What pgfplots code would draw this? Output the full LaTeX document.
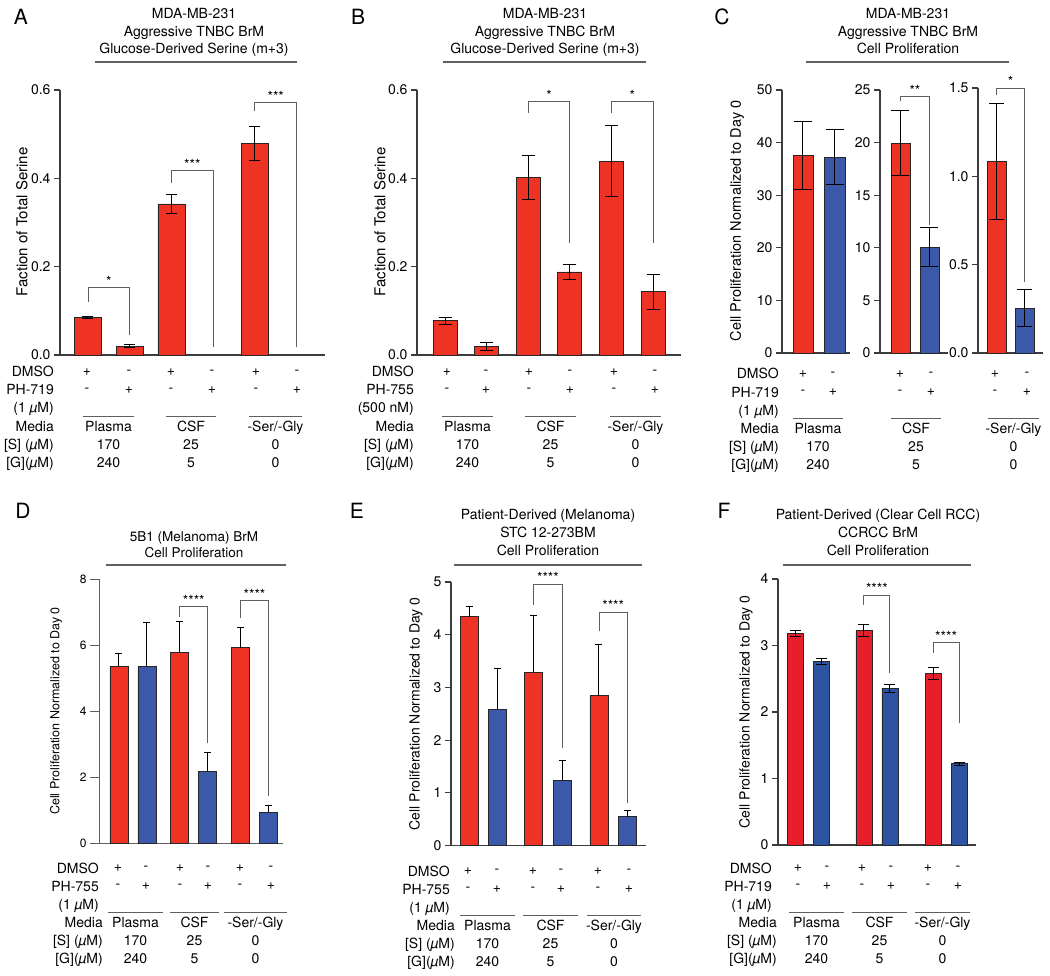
\documentclass[border=0pt]{standalone}
\usepackage{fontspec}
\setmainfont{TeX Gyre Heros}
\usepackage{pgfplots}
\pgfplotsset{compat=1.18}

\definecolor{bred}{RGB}{238,50,36}
\definecolor{bblue}{RGB}{59,89,168}
\definecolor{fred}{RGB}{232,30,42}
\definecolor{fblue}{RGB}{44,84,162}
\definecolor{axgray}{RGB}{60,60,60}
\definecolor{lngray}{RGB}{95,95,95}

\newcommand{\fs}[1]{\fontsize{#1}{#1}\selectfont}
\newcommand{\SG}{-Ser/-Gly}
\newcommand{\um}{{\itshape µ}M}

\pgfplotsset{
  panel/.style={scale only axis, anchor=south west, clip=false,
    axis x line*=bottom, axis y line*=left, xtick=\empty, ymin=0,
    axis line style={draw=axgray, line width=1.1pt},
    ytick style={draw=axgray, line width=1.1pt},
    tick align=outside, major tick length=6pt,
    /pgf/number format/assume math mode=true,
    yticklabel style={font=\fs{14}},
  },
  onedec/.style={yticklabel style={/pgf/number format/.cd, fixed, fixed zerofill, precision=1}},
  bars/.style n args={4}{ybar, bar width=#1pt, fill=#2, draw=black!85, line width=0.8pt,
    error bars/.cd, y explicit, y dir=#4,
    error bar style={line width=1pt, black},
    error mark options={rotate=90, mark size=#3pt, line width=1pt, black}},
}

% significance bracket: x1, y left end, y top, x2, y right end, stars
\newcommand{\brk}[6]{%
  \draw[lngray, line width=0.9pt] (axis cs:#1,#2) -- (axis cs:#1,#3)
    -- node[anchor=south, inner sep=1pt, text=black, font=\fs{14}] {#6} (axis cs:#4,#3)
    -- (axis cs:#4,#5);}

% condition table under a panel
\newcommand{\Tab}[7]{%
  \node[font=\fs{14}, anchor=base east, inner sep=0] at (#1,#3+5) {DMSO};
  \node[font=\fs{14}, anchor=base east, inner sep=0] at (#1,#3+23) {#4};
  \node[font=\fs{14}, anchor=base east, inner sep=0] at (#1,#3+41) {#5};
  \node[font=\fs{14}, anchor=base east, inner sep=0] at (#2,#3+59) {Media};
  \node[font=\fs{14}, anchor=base east, inner sep=0] at (#2,#3+77) {[S] (\um)};
  \node[font=\fs{14}, anchor=base east, inner sep=0] at (#2,#3+95) {[G](\um)};
  \foreach \p [count=\i] in {#6} {
    \ifodd\i\relax
      \node[font=\fs{14}] at (\p,#3) {+}; \node[font=\fs{14}] at (\p,#3+18) {-};
    \else
      \node[font=\fs{14}] at (\p,#3) {-}; \node[font=\fs{14}] at (\p,#3+18) {+};
    \fi}
  \foreach \a/\b/\m/\s/\g in {#7} {
    \draw[lngray, line width=1pt] (\a,#3+44) -- (\b,#3+44);
    \node[font=\fs{14}, anchor=base, inner sep=0] at ({(\a+\b)/2},#3+59) {\m};
    \node[font=\fs{14}, anchor=base, inner sep=0] at ({(\a+\b)/2},#3+77) {\s};
    \node[font=\fs{14}, anchor=base, inner sep=0] at ({(\a+\b)/2},#3+95) {\g};
  }}

\begin{document}
\begin{tikzpicture}[x=1pt,y=-1pt]
\path[use as bounding box] (0,0) rectangle (1050,976);

%% ---------------- A
\begin{axis}[panel, onedec, at={(60pt,-355pt)}, width=265pt, height=265pt,
  xmin=0.33, xmax=6.68, ymax=0.6, ytick={0,0.2,0.4,0.6}]
\addplot[bars={27}{bred}{5.5}{both}] coordinates {
  (1,0.085) +- (0,0.003) (2,0.020) +- (0,0.003)
  (3,0.342) +- (0,0.022) (5,0.479) +- (0,0.038)};
\brk{1}{0.120}{0.152}{2}{0.045}{*}
\brk{3}{0.389}{0.417}{4}{0.018}{***}
\brk{5}{0.552}{0.571}{6}{0.018}{***}
\end{axis}

%% ---------------- B
\begin{axis}[panel, onedec, at={(417pt,-355pt)}, width=264pt, height=265pt,
  xmin=0.327, xmax=6.67, ymax=0.6, ytick={0,0.2,0.4,0.6}]
\addplot[bars={24}{bred}{6.5}{both}] coordinates {
  (1,0.078) +- (0,0.008) (2,0.019) +- (0,0.009)
  (3,0.402) +- (0,0.050) (4,0.188) +- (0,0.016)
  (5,0.439) +- (0,0.080) (6,0.143) +- (0,0.040)};
\brk{3}{0.548}{0.573}{4}{0.254}{*}
\brk{5}{0.548}{0.573}{6}{0.254}{*}
\end{axis}

%% ---------------- C
\begin{axis}[panel, at={(782pt,-353pt)}, width=68pt, height=263pt,
  xmin=0.344, xmax=2.47, ymax=50, ytick={0,10,...,50}]
\addplot[bars={20}{bred}{9}{both}] coordinates {(1,37.6) +- (0,6.5)};
\addplot[bars={21}{bblue}{9}{both}] coordinates {(2,37.2) +- (0,5.2)};
\end{axis}
\begin{axis}[panel, at={(880pt,-353pt)}, width=68pt, height=263pt,
  xmin=0.293, xmax=2.64, ymax=25, ytick={0,5,...,25}]
\addplot[bars={19}{bred}{9}{both}] coordinates {(1,19.93) +- (0,3.1)};
\addplot[bars={19}{bblue}{9}{both}] coordinates {(2,10.05) +- (0,1.85)};
\brk{1}{24.0}{24.36}{2}{12.2}{**}
\end{axis}
\begin{axis}[panel, onedec, at={(978pt,-353pt)}, width=65pt, height=265pt,
  xmin=0.34, xmax=2.66, ymax=1.5, ytick={0,0.5,1,1.5}]
\addplot[bars={19}{bred}{7.5}{both}] coordinates {(1,1.083) +- (0,0.327)};
\addplot[bars={19}{bblue}{7.5}{both}] coordinates {(2,0.253) +- (0,0.105)};
\brk{1}{1.46}{1.50}{2}{0.40}{*}
\end{axis}

%% ---------------- D
\begin{axis}[panel, at={(99pt,-843pt)}, width=184pt, height=264pt,
  xmin=0.286, xmax=6.857, ymax=8, ytick={0,2,...,8},
  axis line style={draw=lngray, line width=1pt}, ytick style={draw=lngray, line width=1pt},
  major tick length=9pt, yticklabel style={font=\fs{12}}]
\addplot[bars={18}{bred}{3.5}{plus}] coordinates {
  (1,5.36) +- (0,0.37) (3.17,5.78) +- (0,0.93) (5.34,5.92) +- (0,0.60)};
\addplot[bars={18}{bblue}{3.5}{plus}] coordinates {
  (2,5.36) +- (0,1.32) (4.17,2.18) +- (0,0.56) (6.34,0.93) +- (0,0.20)};
\brk{3.17}{6.86}{7.16}{4.17}{3.03}{****}
\brk{5.34}{6.82}{7.34}{6.34}{1.42}{****}
\end{axis}

%% ---------------- E
\begin{axis}[panel, at={(451pt,-845.5pt)}, width=195pt, height=263.5pt,
  xmin=0.368, xmax=7.21, ymax=5, ytick={0,1,...,5}]
\addplot[bars={18}{bred}{3.5}{plus}] coordinates {
  (1,4.34) +- (0,0.20) (3.27,3.29) +- (0,1.08) (5.56,2.84) +- (0,0.98)};
\addplot[bars={18}{bblue}{3.5}{plus}] coordinates {
  (2,2.58) +- (0,0.78) (4.27,1.23) +- (0,0.39) (6.56,0.55) +- (0,0.11)};
\brk{3.27}{4.56}{4.96}{4.27}{1.85}{****}
\brk{5.56}{4.07}{4.43}{6.56}{0.80}{****}
\end{axis}

%% ---------------- F
\begin{axis}[panel, at={(778pt,-845pt)}, width=198pt, height=266pt,
  xmin=0.346, xmax=7.96, ymax=4, ytick={0,1,...,4}]
\addplot[bars={16}{fred}{5.5}{both}] coordinates {
  (1,3.18) +- (0,0.05) (3.65,3.22) +- (0,0.09) (6.31,2.58) +- (0,0.09)};
\addplot[bars={16}{fblue}{5.5}{both}] coordinates {
  (2,2.76) +- (0,0.05) (4.65,2.36) +- (0,0.06) (7.31,1.22) +- (0,0.02)};
\brk{3.65}{3.61}{3.76}{4.65}{2.59}{****}
\brk{6.31}{2.89}{3.04}{7.31}{1.83}{****}
\end{axis}

%% ---------------- panel letters
\foreach \l/\x/\y in {A/21/17, B/358/17, C/722/17, D/23/511, E/357/511, F/724/511}
  \node[font=\fs{21}] at (\x,\y) {\l};

%% ---------------- titles
\foreach \x/\u/\v in {194/95/297, 545/443/646} {
  \node[font=\fs{14}, anchor=base] at (\x,19) {MDA-MB-231};
  \node[font=\fs{14}, anchor=base] at (\x,37) {Aggressive TNBC BrM};
  \node[font=\fs{14}, anchor=base] at (\x,54) {Glucose-Derived Serine (m+3)};
  \draw[lngray, line width=1.2pt] (\u,62) -- (\v,62);
}
\node[font=\fs{14}, anchor=base] at (908,19) {MDA-MB-231};
\node[font=\fs{14}, anchor=base] at (908,37) {Aggressive TNBC BrM};
\node[font=\fs{14}, anchor=base] at (908,54) {Cell Proliferation};
\draw[lngray, line width=1.2pt] (806,62) -- (1009,62);

\node[font=\fs{13.5}, anchor=base] at (194,541) {5B1 (Melanoma) BrM};
\node[font=\fs{13.5}, anchor=base] at (194,557) {Cell Proliferation};
\draw[lngray, line width=1.2pt] (106,565) -- (286,565);

\node[font=\fs{14}, anchor=base] at (548,519) {Patient-Derived (Melanoma)};
\node[font=\fs{14}, anchor=base] at (548,537) {STC 12-273BM};
\node[font=\fs{14}, anchor=base] at (548,555) {Cell Proliferation};
\draw[lngray, line width=1.2pt] (454,565) -- (642,565);

\node[font=\fs{14}, anchor=base] at (878,519) {Patient-Derived (Clear Cell RCC)};
\node[font=\fs{14}, anchor=base] at (878,537) {CCRCC BrM};
\node[font=\fs{14}, anchor=base] at (878,555) {Cell Proliferation};
\draw[lngray, line width=1.2pt] (783,565) -- (971,565);

%% ---------------- y labels
\node[rotate=90, font=\fs{15}] at (22,222) {Faction of Total Serine};
\node[rotate=90, font=\fs{15}] at (380,222) {Faction of Total Serine};
\node[rotate=90, font=\fs{14.5}] at (737,221) {Cell Proliferation Normalized to Day 0};
\node[rotate=90, font=\fs{12.5}] at (56,711) {Cell Proliferation Normalized to Day 0};
\node[rotate=90, font=\fs{14}] at (416,714) {Cell Proliferation Normalized to Day 0};
\node[rotate=90, font=\fs{14}] at (746,712) {Cell Proliferation Normalized to Day 0};

%% ---------------- condition tables
\Tab{54}{54}{372}{PH-719}{(1 \um)}{87,129,171,212,256,297}
  {83/134/Plasma/170/240, 166/216/CSF/25/5, 249/302/\SG/0/0}
\Tab{414}{414}{372}{PH-755}{(500 nM)}{447,486,529,570,614,655}
  {442/493/Plasma/170/240, 525/576/CSF/25/5, 610/661/\SG/0/0}
\Tab{779}{779}{374}{PH-719}{(1 \um)}{803,833,900,931,995,1027}
  {793/843/Plasma/170/240, 891/941/CSF/25/5, 988/1039/\SG/0/0}
\Tab{99}{103}{868}{PH-755}{(1 \um)}{118,146,180,208,240,271}
  {108/163/Plasma/170/240, 170/219/CSF/25/5, 224/287/\SG/0/0}
\Tab{450}{455}{871}{PH-755}{(1 \um)}{468,497,533,561,598,629}
  {460/515/Plasma/170/240, 523/578/CSF/25/5, 587/641/\SG/0/0}
\Tab{772}{777}{868}{PH-719}{(1 \um)}{798,827,862,891,928,958}
  {789/844/Plasma/170/240, 852/907/CSF/25/5, 915/970/\SG/0/0}
\end{tikzpicture}
\end{document}
